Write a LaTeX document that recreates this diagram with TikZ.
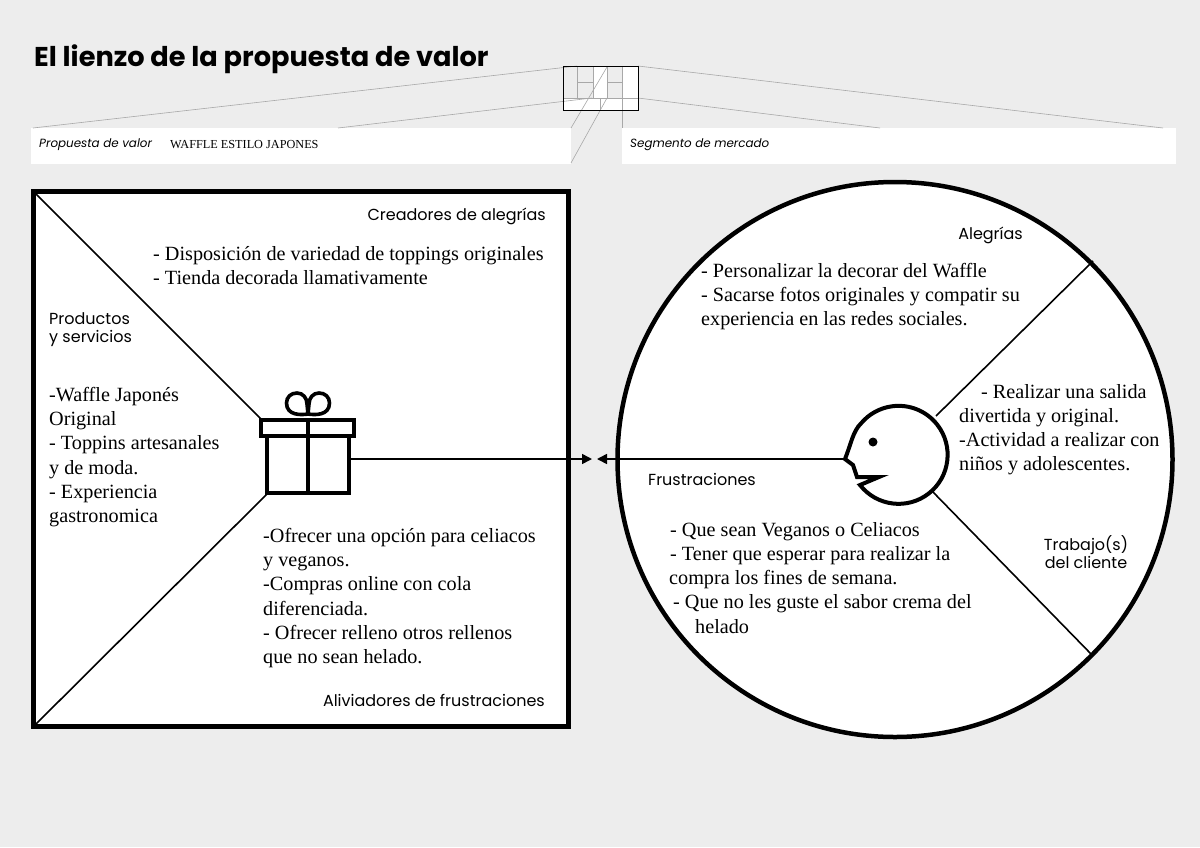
\documentclass[tikz,border=0pt]{standalone}
\usepackage{fontspec}
\setmainfont{Liberation Serif}
\newfontfamily\labelfont{Poppins}
\usetikzlibrary{arrows.meta}
\definecolor{paper}{HTML}{EDEDED}
\definecolor{hair}{HTML}{A8A8A8}
\tikzset{
  bodytext/.style={anchor=north west,align=left,inner sep=0pt,font=\fontsize{20.2}{24.2}\selectfont},
  sectionlabel/.style={inner sep=0pt,font=\labelfont\fontsize{16}{18}\selectfont},
  headlabel/.style={anchor=base west,inner sep=0pt,font=\labelfont\itshape\fontsize{11.9}{15}\selectfont},
  hairline/.style={draw=hair,line width=0.6pt},
  inkline/.style={draw=black,line width=1.6pt},
  tick/.style={-{Triangle[length=10pt,width=10pt]},inkline}
}
\begin{document}
\begin{tikzpicture}[x=1pt,y=-1pt]
  \useasboundingbox[fill=paper] (0,0) rectangle (1200,847);
  \node[anchor=base west,inner sep=0pt,font=\labelfont\bfseries\fontsize{27.2}{30}\selectfont] (title) at (34,66) {El lienzo de la propuesta de valor};
  % small canvas
  \fill [white] (31,128) rectangle (571,164);
  \fill [white] (622,128) rectangle (1176,164);
  \fill [white] (593,66) rectangle (607,98);
  \fill [white] (622,66) rectangle (638,98);
  \fill [white] (563,98) rectangle (638,110);
  \foreach \xa/\ya/\xb/\yb in {577/66/33/128,592/98/338/128,638/66/1163/128,638/98/880/128,607/67/571/128,607/98/571/163,622/98/622/128,577/66/577/98,593/66/593/98,607/66/607/98,622/66/622/98,563/98/638/98,577/82/593/82,607/82/622/82,600/98/600/110}
    \draw [hairline] (\xa,\ya) -- (\xb,\yb);
  \node[draw=black,line width=1pt,outer sep=0pt,minimum width=75pt,minimum height=44pt,inner sep=0pt] (canvas) at (600.5,88) {};
  \node[headlabel] (proplabel) at (39,147) {Propuesta de valor};
  \node[anchor=base west,inner sep=0pt,font=\fontsize{12.25}{14}\selectfont] (propname) at (170,148) {WAFFLE ESTILO JAPONES};
  \node[headlabel] (seglabel) at (630,147) {Segmento de mercado};
  % value map
  \node[draw=black,fill=white,line width=5pt,outer sep=0pt,minimum width=535pt,minimum height=535pt,inner sep=0pt] (valuemap) at (301,459) {};
  \coordinate (giftnw) at (261,419);
  \coordinate (giftsw) at (267,494);
  \coordinate (giftout) at (350,459);
  \draw [inkline] (valuemap.north west) -- (giftnw);
  \draw [inkline] (valuemap.south west) -- (giftsw);
  \draw [line width=3.6pt] (308,414) .. controls (302,415) and (286.5,416) .. (286.5,403) .. controls (286.5,397) and (291,393) .. (297,393) .. controls (303,393) and (307,398) .. (307,404) -- (308,414);
  \draw [line width=3.6pt] (308,414) .. controls (314,415) and (329.5,416) .. (329.5,403) .. controls (329.5,397) and (325,393) .. (319,393) .. controls (313,393) and (309,398) .. (309,404) -- (308,414);
  \draw [fill=white,line width=4pt] (267,436) rectangle (349,493);
  \draw [fill=white,line width=4pt] (261,420) rectangle (354,436);
  \draw [line width=4pt] (308,420) -- (308,493);
  % customer profile
  \node[draw=black,fill=white,circle,line width=4.5pt,outer sep=0pt,minimum size=555pt,inner sep=0pt] (profile) at (895,459.5) {};
  \coordinate (joyend) at (1093,261);
  \coordinate (gainstart) at (936,416);
  \coordinate (painend) at (1093,656);
  \coordinate (painstart) at (932,491);
  \coordinate (nose) at (845,459);
  \draw [inkline] (gainstart) -- (joyend);
  \draw [inkline] (painstart) -- (painend);
  \draw [line width=4pt,miter limit=10] (860,485) arc[start angle=142,end angle=-140,radius=49] .. controls (853,431) and (851,444) .. (nose) -- (853,465) -- (857,477) -- (879,477) -- cycle;
  \fill [black] (873,442) circle (4.5);
  % arrows
  \coordinate (lefttip) at (592,459);
  \coordinate (righttip) at (597,459);
  \draw [tick] (giftout) -- (lefttip);
  \draw [tick] (nose) -- (righttip);
  % labels
  \node[sectionlabel,anchor=base east] (creators) at (546,220) {Creadores de alegrías};
  \node[sectionlabel,anchor=base east] (relievers) at (545,706) {Aliviadores de frustraciones};
  \node[sectionlabel,anchor=north west,align=left] (products) at (49,312) {Productos\\y servicios};
  \node[sectionlabel,anchor=base east] (gains) at (1023,239) {Alegrías};
  \node[sectionlabel,anchor=base west] (pains) at (648,485) {Frustraciones};
  \node[sectionlabel,align=center] (jobs) at (1086,552) {Trabajo(s)\\del cliente};
  % texts
  \node[bodytext] (t1) at (153,246) {- Disposición de variedad de toppings originales\\- Tienda decorada llamativamente};
  \node[bodytext] (t2) at (49,387) {-Waffle Japonés\\Original\\- Toppins artesanales\\y de moda.\\- Experiencia\\gastronomica};
  \node[bodytext] (t3) at (263,528) {-Ofrecer una opción para celiacos\\y veganos.\\-Compras online con cola\\diferenciada.\\- Ofrecer relleno otros rellenos\\que no sean helado.};
  \node[bodytext] (t4) at (701,263) {- Personalizar la decorar del Waffle\\- Sacarse fotos originales y compatir su\\experiencia en las redes sociales.};
  \node[bodytext] (t5) at (959,384) {\hspace{22pt}- Realizar una salida\\divertida y original.\\-Actividad a realizar con\\niños y adolescentes.};
  \node[bodytext] (t6) at (669,522) {\hspace{1pt}- Que sean Veganos o Celiacos\\\hspace{1pt}- Tener que esperar para realizar la\\compra los fines de semana.\\\hspace{4pt}- Que no les guste el sabor crema del\\\hspace{26pt}helado};
\end{tikzpicture}
\end{document}
